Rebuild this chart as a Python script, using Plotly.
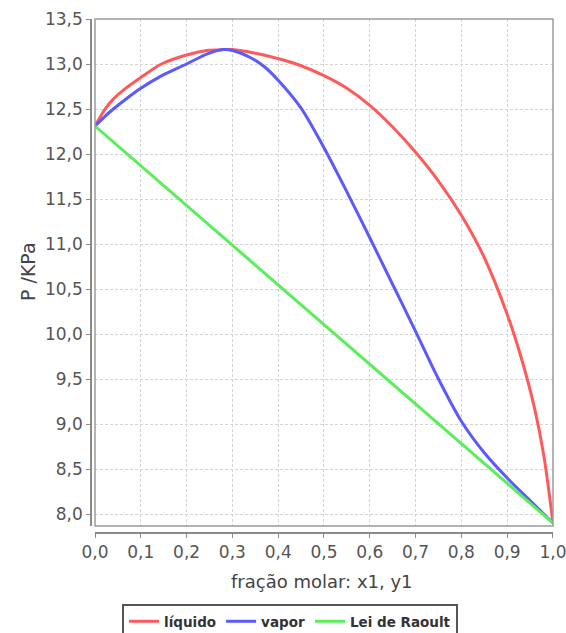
import plotly.graph_objects as go

# Liquid (bubble) curve: P vs x1
x_liquido = [0.0, 0.01, 0.022, 0.04, 0.062, 0.1, 0.145, 0.2, 0.244, 0.28, 0.3, 0.35,
             0.4, 0.44, 0.5, 0.55, 0.6, 0.65, 0.7, 0.75, 0.8, 0.85, 0.9, 0.93, 0.96,
             0.98, 1.0]
p_liquido = [12.31, 12.40, 12.50, 12.61, 12.71, 12.85, 13.00, 13.10, 13.15, 13.16, 13.16,
             13.12, 13.06, 13.00, 12.87, 12.73, 12.54, 12.30, 12.02, 11.70, 11.32, 10.85,
             10.22, 9.75, 9.17, 8.65, 7.90]

# Vapor (dew) curve: P vs y1
y_vapor = [0.0, 0.02, 0.04, 0.07, 0.1, 0.142, 0.2, 0.244, 0.28, 0.3, 0.34, 0.37, 0.4,
           0.45, 0.5, 0.55, 0.6, 0.65, 0.7, 0.75, 0.8, 0.85, 0.9, 0.95, 1.0]
p_vapor = [12.31, 12.41, 12.50, 12.62, 12.73, 12.86, 13.00, 13.11, 13.16, 13.15, 13.07,
           12.97, 12.82, 12.51, 12.07, 11.58, 11.07, 10.55, 10.03, 9.50, 9.03, 8.68,
           8.40, 8.15, 7.90]

# Raoult's law (ideal) line
x_raoult = [0.0, 1.0]
p_raoult = [12.31, 7.90]

x_ticks = [round(0.1 * i, 1) for i in range(11)]
y_ticks = [8.0 + 0.5 * i for i in range(12)]

W, H = 566, 633
ML, MR, MT, MB = 85, 11, 15, 100
PW, PH = W - ML - MR, H - MT - MB


def fx(px):
    return (px - ML) / PW


def fy(py):
    return (H - MB - py) / PH


fig = go.Figure()
fig.add_trace(go.Scatter(x=x_liquido, y=p_liquido, mode="lines", name="líquido",
                         line=dict(color="#ff5a5a", width=3, shape="spline", smoothing=0.9)))
fig.add_trace(go.Scatter(x=y_vapor, y=p_vapor, mode="lines", name="vapor",
                         line=dict(color="#5a5aff", width=3, shape="spline", smoothing=0.8)))
fig.add_trace(go.Scatter(x=x_raoult, y=p_raoult, mode="lines", name="Lei de Raoult",
                         line=dict(color="#5aee5a", width=3)))

tick_font = dict(family="DejaVu Sans", size=17, color="#555555")
axis_common = dict(
    showline=True, linecolor="#8a8a8a", linewidth=1.5,
    ticks="outside", ticklen=4, tickcolor="#8a8a8a", tickwidth=1,
    showgrid=True, gridcolor="#d4d4d4", gridwidth=1, griddash="3px,2px",
    zeroline=False, tickfont=tick_font, tickformat=".1f", automargin=False,
    ticklabeloverflow="allow",
)

y_lo = 13.5 - (526 - 19) / 90.0

fig.update_layout(
    width=W, height=H,
    margin=dict(l=ML, r=MR, t=MT, b=MB, autoexpand=False),
    paper_bgcolor="white", plot_bgcolor="white",
    separators=",.",
    showlegend=True,
    xaxis=dict(axis_common, domain=[fx(95), fx(553)], range=[0, 1.0001],
               tickvals=x_ticks, anchor="free", position=fy(533)),
    yaxis=dict(axis_common, domain=[fy(526), fy(19)], range=[y_lo, 13.5001],
               tickvals=y_ticks, anchor="free", position=fx(91)),
    legend=dict(orientation="h", x=fx(122), xanchor="left", y=fy(604), yanchor="top",
                bordercolor="#555555", borderwidth=2, bgcolor="white",
                font=dict(family="DejaVu Sans", size=13.5, color="#333333", weight="bold"),
                itemwidth=30, tracegroupgap=0),
    annotations=[
        dict(text="P /KPa", xref="paper", yref="paper", x=fx(28), y=fy(272),
             xanchor="center", yanchor="middle",
             showarrow=False, textangle=-90,
             font=dict(family="DejaVu Sans", size=19, color="#444444")),
        dict(text="fração molar: x1, y1", xref="paper", yref="paper", x=fx(322), y=fy(581),
             xanchor="center", yanchor="middle",
             showarrow=False,
             font=dict(family="DejaVu Sans", size=18, color="#444444")),
    ],
    shapes=[
        dict(type="rect", xref="x domain", yref="y domain", x0=0, x1=1, y0=0, y1=1,
             line=dict(color="#9a9a9a", width=1.5), layer="above"),
    ],
)

fig.write_html("out.html")
